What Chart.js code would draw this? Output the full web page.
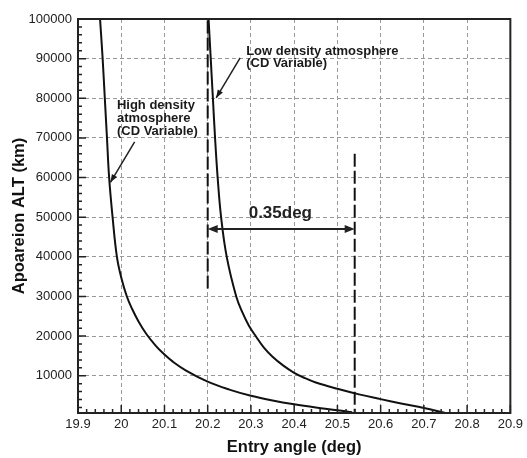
<!DOCTYPE html>
<html>
<head>
<meta charset="utf-8">
<script src="https://cdn.jsdelivr.net/npm/chart.js@4.4.0/dist/chart.umd.min.js"></script>
<style>
  html, body { margin: 0; padding: 0; background: #fff; }
</style>
</head>
<body>
<canvas id="chart" width="527" height="458"></canvas>
<script>
// Axis ticks
const xTicks = [19.9, 20, 20.1, 20.2, 20.3, 20.4, 20.5, 20.6, 20.7, 20.8, 20.9];
const yTicks = [10000, 20000, 30000, 40000, 50000, 60000, 70000, 80000, 90000, 100000];

// High density atmosphere (CD variable)
const highAngle = [19.951, 19.957, 19.962, 19.967, 19.972, 19.98, 19.99, 20.0, 20.013, 20.025, 20.04, 20.059, 20.08, 20.1, 20.12, 20.15, 20.2, 20.25, 20.3, 20.35, 20.4, 20.45, 20.5, 20.534];
const highAlt   = [100000, 90000, 80000, 70000, 60000, 50000, 40000, 34800, 30000, 26900, 23700, 20400, 17550, 15350, 13500, 11300, 8500, 6500, 4950, 3750, 2780, 1990, 1320, 800];

// Low density atmosphere (CD variable)
const lowAngle = [20.202, 20.207, 20.212, 20.217, 20.223, 20.231, 20.244, 20.266, 20.28, 20.295, 20.312, 20.33, 20.35, 20.375, 20.4, 20.425, 20.45, 20.5, 20.55, 20.6, 20.65, 20.7, 20.748];
const lowAlt   = [100000, 90000, 80000, 70000, 60000, 50000, 40000, 30000, 26050, 22700, 19850, 17100, 14800, 12550, 10750, 9400, 8300, 6700, 5300, 4100, 2950, 1850, 650];

// Dashed guide lines
const guideLeftX = [20.2, 20.2];
const guideLeftY = [32000, 100000];
const guideRightX = [20.54, 20.54];
const guideRightY = [66000, 600];

// 0.35 deg span arrow
const spanX = [20.2, 20.54];
const spanY = 47000;
const spanLabel = '0.35deg';

const Y_MIN = 600;
const Y_MAX = 100000;

const toPoints = (xs, ys) => xs.map((x, i) => ({ x, y: ys[i] }));

const FONT = "'Liberation Sans', Arial, sans-serif";

function arrowHead(ctx, x0, y0, x1, y1, len, half) {
  const ang = Math.atan2(y1 - y0, x1 - x0);
  ctx.beginPath();
  ctx.moveTo(x1, y1);
  ctx.lineTo(x1 - len * Math.cos(ang) + half * Math.sin(ang), y1 - len * Math.sin(ang) - half * Math.cos(ang));
  ctx.lineTo(x1 - len * Math.cos(ang) - half * Math.sin(ang), y1 - len * Math.sin(ang) + half * Math.cos(ang));
  ctx.closePath();
  ctx.fill();
}

// Frame, inward ticks and annotations
const decorPlugin = {
  id: 'decor',
  afterDatasetsDraw(chart) {
    const { ctx, chartArea: a, scales: { x, y } } = chart;
    ctx.save();

    // inward tick marks (major + 4 minor per interval)
    ctx.strokeStyle = '#222';
    ctx.lineWidth = 1.5;
    ctx.beginPath();
    for (let i = 0; i < xTicks.length; i++) {
      const px = x.getPixelForValue(xTicks[i]);
      ctx.moveTo(px, a.bottom); ctx.lineTo(px, a.bottom - 8);
      if (i < xTicks.length - 1) {
        for (let k = 1; k < 5; k++) {
          const v = xTicks[i] + (xTicks[i + 1] - xTicks[i]) * k / 5;
          const pm = x.getPixelForValue(v);
          ctx.moveTo(pm, a.bottom); ctx.lineTo(pm, a.bottom - 4);
        }
      }
    }
    const yAll = [0].concat(yTicks);
    for (let i = 0; i < yAll.length; i++) {
      if (yAll[i] >= Y_MIN) {
        const py = y.getPixelForValue(yAll[i]);
        ctx.moveTo(a.left, py); ctx.lineTo(a.left + 8, py);
      }
      if (i < yAll.length - 1) {
        for (let k = 1; k < 5; k++) {
          const v = yAll[i] + (yAll[i + 1] - yAll[i]) * k / 5;
          if (v < Y_MIN) continue;
          const pm = y.getPixelForValue(v);
          ctx.moveTo(a.left, pm); ctx.lineTo(a.left + 4, pm);
        }
      }
    }
    ctx.stroke();

    // frame
    ctx.lineWidth = 2;
    ctx.strokeStyle = '#222';
    ctx.strokeRect(a.left, a.top, a.right - a.left, a.bottom - a.top);

    // span arrow
    const sx0 = x.getPixelForValue(spanX[0]);
    const sx1 = x.getPixelForValue(spanX[1]);
    const sy = y.getPixelForValue(spanY);
    ctx.fillStyle = '#222';
    ctx.lineWidth = 2;
    ctx.beginPath();
    ctx.moveTo(sx0 + 6, sy); ctx.lineTo(sx1 - 6, sy);
    ctx.stroke();
    arrowHead(ctx, sx1, sy, sx0, sy, 10, 4);
    arrowHead(ctx, sx0, sy, sx1, sy, 10, 4);

    ctx.font = "bold 17px " + FONT;
    ctx.textAlign = 'center';
    ctx.textBaseline = 'middle';
    ctx.fillText(spanLabel, x.getPixelForValue(20.368), y.getPixelForValue(51000));

    // curve labels
    ctx.font = "bold 13px " + FONT;
    ctx.textAlign = 'left';
    ctx.fillStyle = '#1a1a1a';
    const hx = x.getPixelForValue(19.99), hy = y.getPixelForValue(78100);
    ['High density', 'atmosphere', '(CD Variable)'].forEach((t, i) => ctx.fillText(t, hx, hy + i * 12.6));
    const lx = x.getPixelForValue(20.289), ly = y.getPixelForValue(91900);
    ['Low density atmosphere', '(CD Variable)'].forEach((t, i) => ctx.fillText(t, lx, ly + i * 12.6));

    // label pointers
    ctx.lineWidth = 1.5;
    const pointers = [
      [20.031, 69000, 19.975, 58800],
      [20.275, 90200, 20.2196, 80100]
    ];
    pointers.forEach(p => {
      const x0 = x.getPixelForValue(p[0]), y0 = y.getPixelForValue(p[1]);
      const x1 = x.getPixelForValue(p[2]), y1 = y.getPixelForValue(p[3]);
      ctx.beginPath(); ctx.moveTo(x0, y0); ctx.lineTo(x1, y1); ctx.stroke();
      arrowHead(ctx, x0, y0, x1, y1, 8, 3);
    });

    ctx.restore();
  }
};

const lineStyle = {
  borderColor: '#111',
  borderWidth: 2,
  pointRadius: 0,
  fill: false
};

new Chart(document.getElementById('chart'), {
  type: 'line',
  data: {
    datasets: [
      Object.assign({ label: 'High density', data: toPoints(highAngle, highAlt), tension: 0.4 }, lineStyle),
      Object.assign({ label: 'Low density', data: toPoints(lowAngle, lowAlt), tension: 0.4 }, lineStyle),
      Object.assign({ label: 'guide1', data: toPoints(guideLeftX, guideLeftY), borderDash: [13, 4] }, lineStyle),
      Object.assign({ label: 'guide2', data: toPoints(guideRightX, guideRightY), borderDash: [13, 4] }, lineStyle)
    ]
  },
  options: {
    responsive: false,
    animation: false,
    layout: { padding: { left: 0, right: 15, top: 19, bottom: 0 } },
    plugins: { legend: { display: false }, tooltip: { enabled: false } },
    scales: {
      x: {
        type: 'linear',
        min: 19.9,
        max: 20.9,
        afterBuildTicks: (s) => { s.ticks = xTicks.map(v => ({ value: v })); },
        afterFit: (s) => { s.height = 45; },
        ticks: {
          color: '#222',
          font: { family: FONT, size: 13 },
          padding: 4,
          maxRotation: 0,
          callback: (v) => String(Math.round(v * 10) / 10)
        },
        grid: { color: '#999', lineWidth: 1, drawTicks: false },
        border: { display: false, dash: [4, 3] },
        title: {
          display: true,
          text: 'Entry angle (deg)',
          color: '#111',
          font: { family: FONT, size: 16.5, weight: 'bold' },
          padding: { top: 0, bottom: 1 }
        }
      },
      y: {
        type: 'linear',
        min: Y_MIN,
        max: Y_MAX,
        afterBuildTicks: (s) => { s.ticks = yTicks.map(v => ({ value: v })); },
        afterFit: (s) => { s.width = 78; },
        ticks: {
          color: '#222',
          font: { family: FONT, size: 13 },
          padding: 6,
          callback: (v) => String(v)
        },
        grid: { color: '#999', lineWidth: 1, drawTicks: false },
        border: { display: false, dash: [4, 3] },
        title: {
          display: true,
          text: 'Apoareion ALT (km)',
          color: '#111',
          font: { family: FONT, size: 16.5, weight: 'bold' },
          padding: { top: 10, bottom: 0 }
        }
      }
    }
  },
  plugins: [decorPlugin]
});
</script>
</body>
</html>
